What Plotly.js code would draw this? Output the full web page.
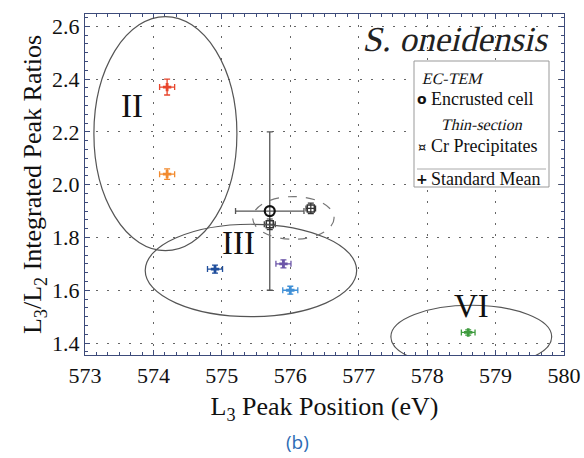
<!DOCTYPE html>
<html>
<head>
<meta charset="utf-8">
<script src="https://cdn.plot.ly/plotly-3.0.1.min.js"></script>
<style>html,body{margin:0;padding:0;background:#fff;}#chart{width:584px;height:458px;}</style>
</head>
<body>
<div id="chart"></div>
<script>
// ---- data ----
const meanX = [574.2, 574.2, 574.9, 575.9, 576.0, 578.6];
const meanY = [2.37, 2.04, 1.68, 1.70, 1.60, 1.44];
const meanXErr = [0.11, 0.11, 0.11, 0.11, 0.11, 0.10];
const meanYErr = [0.03, 0.02, 0.015, 0.015, 0.015, 0.01];
const meanColors = ['#e8452c', '#f28a2e', '#1f4e9c', '#6b55a8', '#3f8fd6', '#3e9b3e'];

const cellX = [575.7];
const cellY = [1.90];
const cellXErr = [0.5];
const cellYErr = [0.3];

const crX = [575.7, 576.3];
const crY = [1.85, 1.91];
const crXErr = [0.08, 0.07];
const crYErr = [0.02, 0.02];

const xTicks = [573, 574, 575, 576, 577, 578, 579, 580];
const yTicks = [1.4, 1.6, 1.8, 2.0, 2.2, 2.4, 2.6];

// region ellipses
const regionNames = ['II', 'III', 'VI'];
const regionX0 = [573.13, 573.88, 577.47, 575.45];
const regionX1 = [575.22, 576.97, 579.82, 576.64];
const regionY0 = [1.75, 1.50, 1.305, 1.793];
const regionY1 = [2.637, 1.85, 1.543, 1.955];
const labelX = [573.68, 575.25, 578.65];
const labelY = [2.30, 1.78, 1.54];

// ---- helpers (pixel -> paper) ----
const L = 85, R = 564, T = 14, B = 355;
const px = x => (x - L) / (R - L);
const py = y => (B - y) / (B - T);
const serif = 'Liberation Serif, Times New Roman, serif';
const sans = 'DejaVu Sans, sans-serif';

const traces = [];
for (let i = 0; i < meanX.length; i++) {
  traces.push({
    type: 'scatter', mode: 'markers',
    x: [meanX[i]], y: [meanY[i]],
    marker: {symbol: 'cross', size: 7, color: meanColors[i]},
    error_x: {type: 'data', array: [meanXErr[i]], color: meanColors[i], thickness: 1.3, width: 3},
    error_y: {type: 'data', array: [meanYErr[i]], color: meanColors[i], thickness: 1.3, width: 3},
    showlegend: false, cliponaxis: false
  });
}
traces.push({
  type: 'scatter', mode: 'markers', x: cellX, y: cellY, name: 'Encrusted cell',
  marker: {symbol: 'circle-open', size: 10, color: '#111', line: {width: 2.2, color: '#111'}},
  error_x: {type: 'data', array: cellXErr, color: '#555', thickness: 1.3, width: 3},
  error_y: {type: 'data', array: cellYErr, color: '#555', thickness: 1.3, width: 3},
  showlegend: false
});
traces.push({
  type: 'scatter', mode: 'markers', x: crX, y: crY, name: 'Cr Precipitates',
  marker: {symbol: 'square-open', size: 7, color: '#333', line: {width: 1.5, color: '#333'}},
  error_x: {type: 'data', array: crXErr, color: '#333', thickness: 1.2, width: 3},
  error_y: {type: 'data', array: crYErr, color: '#333', thickness: 1.2, width: 3},
  showlegend: false
});

const shapes = [];
for (let i = 0; i < regionX0.length; i++) {
  shapes.push({
    type: 'circle', xref: 'x', yref: 'y',
    x0: regionX0[i], x1: regionX1[i], y0: regionY0[i], y1: regionY1[i],
    line: {color: i === 3 ? '#777' : '#555', width: 1.2, dash: i === 3 ? 'dash' : 'solid'}
  });
}
// legend box
shapes.push({type: 'rect', xref: 'paper', yref: 'paper', x0: px(414), x1: px(549), y0: py(187), y1: py(61),
  line: {color: '#999', width: 1}, fillcolor: '#fff'});
shapes.push({type: 'line', xref: 'paper', yref: 'paper', x0: px(417), x1: px(546), y0: py(169), y1: py(169),
  line: {color: '#aaa', width: 1}});

const annotations = [];
const slanted = [];
function note(x, y, text, font, xanchor, slant) {
  if (slant) slanted.push(annotations.length);
  annotations.push({x: x, y: y, xref: 'paper', yref: 'paper', text: text, showarrow: false,
    xanchor: xanchor || 'center', yanchor: 'middle', font: font});
}
for (let i = 0; i < labelX.length; i++) {
  annotations.push({x: labelX[i], y: labelY[i], xref: 'x', yref: 'y', text: regionNames[i], showarrow: false,
    xanchor: 'center', yanchor: 'middle', font: {family: serif, size: 33, color: '#111'}});
}
note(px(457), py(39), 'S. oneidensis', {family: serif, size: 35, color: '#222'}, 'center', true);
// legend content
const lf = {family: serif, size: 18, color: '#111'};
const lt = {family: serif, size: 16, color: '#111'};
note(px(453), py(78), 'EC-TEM', lt, 'center', true);
note(px(422), py(99), '<b>o</b>', {family: sans, size: 14, color: '#111'});
note(px(429), py(99), 'Encrusted cell', lf, 'left');
note(px(482), py(124), 'Thin-section', lt, 'center', true);
note(px(422), py(146), '¤', {family: sans, size: 13, color: '#111'});
note(px(429), py(146), 'Cr Precipitates', lf, 'left');
note(px(422), py(179), '<b>+</b>', {family: sans, size: 14, color: '#111'});
note(px(429), py(179), 'Standard Mean', lf, 'left');
// caption
note(px(297), py(442), '(b)', {family: 'Open Sans, Noto Sans, sans-serif', size: 19, color: '#2d6cb5'});

const axisCommon = {
  showline: true, linecolor: '#3d4b7a', linewidth: 1.2, mirror: 'ticks',
  ticks: 'inside', ticklen: 5, tickwidth: 1, tickcolor: '#3d4b7a',
  showgrid: true, gridcolor: '#666', gridwidth: 1, griddash: '2px,9px',
  zeroline: false,
  tickfont: {family: serif, size: 22, color: '#111'}
};

const layout = {
  width: 584, height: 458,
  margin: {l: L, r: 584 - R, t: T, b: 458 - B},
  paper_bgcolor: '#fff', plot_bgcolor: '#fff',
  showlegend: false,
  xaxis: Object.assign({}, axisCommon, {
    range: [573, 580], tickvals: xTicks, ticktext: xTicks.map(String),
    minor: {dtick: 1 / 6, tick0: 573, ticks: 'inside', ticklen: 3, tickcolor: '#3d4b7a', showgrid: false},
    title: {text: 'L<sub>3</sub> Peak Position (eV)', font: {family: serif, size: 26, color: '#111'}, standoff: 10}
  }),
  yaxis: Object.assign({}, axisCommon, {
    range: [1.3545, 2.647], tickvals: yTicks, ticktext: yTicks.map(v => v.toFixed(1)),
    minor: {dtick: 0.2 / 6, tick0: 1.4, ticks: 'inside', ticklen: 3, tickcolor: '#3d4b7a', showgrid: false},
    title: {text: 'L<sub>3</sub>/L<sub>2</sub> Integrated Peak Ratios', font: {family: serif, size: 26, color: '#111'}, standoff: 2}
  }),
  shapes: shapes,
  annotations: annotations
};

Plotly.newPlot('chart', traces, layout, {displayModeBar: false, staticPlot: true}).then(() => {
  // no italic serif face is installed, so slant the regular serif face
  slanted.forEach(k => {
    document.querySelectorAll('g.annotation[data-index="' + k + '"] text').forEach(t => {
      t.style.transformBox = 'fill-box';
      t.style.transformOrigin = 'center';
      t.style.transform = 'skewX(-13deg)';
    });
  });
});
</script>
</body>
</html>
